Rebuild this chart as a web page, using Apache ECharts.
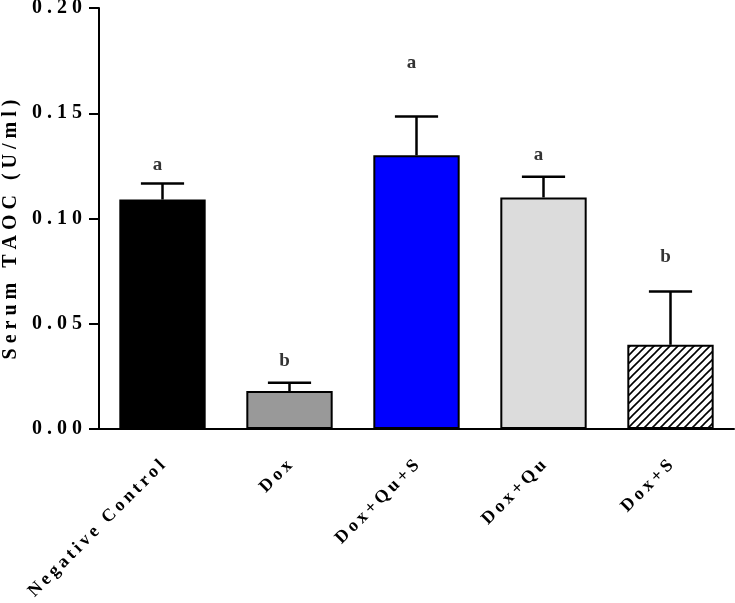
<!DOCTYPE html>
<html>
<head>
<meta charset="utf-8">
<script src="https://cdn.jsdelivr.net/npm/echarts@6/dist/echarts.min.js"></script>
<style>
html,body{margin:0;padding:0;background:#fff;}
#chart{width:735px;height:603px;}
</style>
</head>
<body>
<div id="chart"></div>
<script>
// ---- data ----
const categories = ['Negative Control', 'Dox', 'Dox+Qu+S', 'Dox+Qu', 'Dox+S'];
const means = [0.109, 0.018, 0.130, 0.110, 0.040];
const errors = [0.0076, 0.004, 0.0185, 0.0098, 0.0253];
const letters = ['a', 'b', 'a', 'a', 'b'];
const letterValues = [0.1255, 0.0324, 0.174, 0.130, 0.0818];
const yTickValues = [0, 0.05, 0.10, 0.15, 0.20];
const yTitle = 'Serum TAOC (U/ml)';

// ---- styling helpers ----
const FONT = '"Liberation Serif", "Times New Roman", serif';
function spaced(s, gap) { return s.split('').join(gap); }

const hatch = document.createElement('canvas');
hatch.width = 8; hatch.height = 8;
(function () {
  const ctx = hatch.getContext('2d');
  ctx.fillStyle = '#ffffff';
  ctx.fillRect(0, 0, 8, 8);
  ctx.strokeStyle = '#000000';
  ctx.lineWidth = 1.6;
  ctx.beginPath();
  ctx.moveTo(-1, 9); ctx.lineTo(9, -1);
  ctx.moveTo(-1, 1); ctx.lineTo(1, -1);
  ctx.moveTo(7, 9); ctx.lineTo(9, 7);
  ctx.stroke();
})();

const fills = ['#000000', '#999999', '#0000ff', '#dcdcdc', { image: hatch, repeat: 'repeat' }];

const chart = echarts.init(document.getElementById('chart'), null, { renderer: 'canvas' });

chart.setOption({
  animation: false,
  backgroundColor: '#ffffff',
  grid: { left: 99, right: 1, top: 8, bottom: 174, containLabel: false, outerBoundsMode: 'none' },
  xAxis: {
    type: 'category',
    data: categories,
    boundaryGap: true,
    axisLine: { lineStyle: { color: '#000', width: 2 } },
    axisTick: { alignWithLabel: true, length: 10, lineStyle: { color: '#000', width: 2 } },
    axisLabel: {
      rotate: 45,
      margin: 34,
      interval: 0,
      color: '#000',
      fontFamily: FONT,
      fontWeight: 'bold',
      fontSize: 18,
      formatter: function (v) { return spaced(v, '\u2009'); }
    },
    splitLine: { show: false }
  },
  yAxis: {
    type: 'value',
    min: 0,
    max: 0.2,
    interval: 0.05,
    name: spaced(yTitle, '\u2005'),
    nameLocation: 'middle',
    nameGap: 74,
    nameTextStyle: { color: '#000', fontFamily: FONT, fontWeight: 'bold', fontSize: 20, padding: [0, 22, 0, 0] },
    axisLine: { show: true, lineStyle: { color: '#000', width: 2 } },
    axisTick: { show: true, length: 10, lineStyle: { color: '#000', width: 2 } },
    axisLabel: {
      margin: 17,
      color: '#000',
      fontFamily: FONT,
      fontWeight: 'bold',
      fontSize: 20,
      formatter: function (v) {
        const t = yTickValues.find(function (x) { return Math.abs(x - v) < 1e-9; });
        return t === undefined ? '' : spaced(t.toFixed(2), '\u2005');
      }
    },
    splitLine: { show: false }
  },
  series: [
    {
      type: 'bar',
      barWidth: '68%',
      data: means.map(function (m, i) {
        return { value: m, itemStyle: { color: fills[i], borderColor: '#000', borderWidth: 2 } };
      }),
      z: 2
    },
    {
      type: 'custom',
      z: 3,
      data: means.map(function (m, i) { return [i, m, errors[i]]; }),
      encode: { x: 0, y: 1 },
      renderItem: function (params, api) {
        const i = api.value(0), m = api.value(1), e = api.value(2);
        const p0 = api.coord([i, m]);
        const p1 = api.coord([i, m + e]);
        const half = api.size([1, 0])[0] * 0.17;
        const st = { stroke: '#000', lineWidth: 2.5 };
        return {
          type: 'group',
          children: [
            { type: 'line', shape: { x1: p0[0], y1: p0[1], x2: p1[0], y2: p1[1] }, style: st },
            { type: 'line', shape: { x1: p1[0] - half, y1: p1[1], x2: p1[0] + half, y2: p1[1] }, style: st }
          ]
        };
      }
    },
    {
      type: 'scatter',
      z: 4,
      symbolSize: 1,
      itemStyle: { color: 'rgba(0,0,0,0)' },
      data: letterValues.map(function (v, i) { return [i, v]; }),
      label: {
        show: true,
        position: 'inside',
        offset: [-5, 0],
        color: '#000',
        fontFamily: FONT,
        fontWeight: 'bold',
        fontSize: 19,
        formatter: function (p) { return letters[p.dataIndex]; }
      }
    }
  ]
});
</script>
</body>
</html>
